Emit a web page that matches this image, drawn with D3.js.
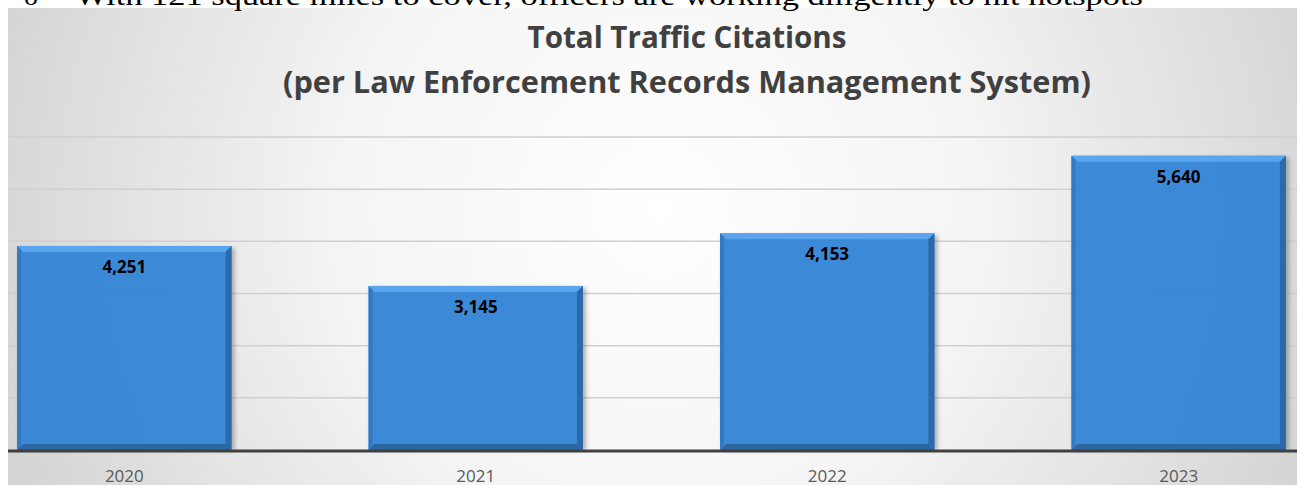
<!DOCTYPE html>
<html>
<head>
<meta charset="utf-8">
<script src="https://cdn.jsdelivr.net/npm/d3@7"></script>
<style>
  html, body { margin: 0; padding: 0; background: #ffffff; }
  svg { display: block; }
</style>
</head>
<body>
<div id="chart"></div>
<script>
// ---- data ----
const years = ["2020", "2021", "2022", "2023"];
const citationLabels = [4251, 3145, 4153, 5640];      // printed data labels
const barHeightsRead = [3910, 3145, 4153, 5640];      // bar heights as drawn in the picture
const yTicks = [0, 1000, 2000, 3000, 4000, 5000, 6000];
const titleLines = ["Total Traffic Citations", "(per Law Enforcement Records Management System)"];
const docLine = "With 121 square miles to cover, officers are working diligently to hit hotspots";

const W = 1297, H = 485;
const svg = d3.select("#chart").append("svg").attr("width", W).attr("height", H);
const defs = svg.append("defs");

const bg = defs.append("radialGradient").attr("id", "bgGrad")
  .attr("gradientUnits", "userSpaceOnUse")
  .attr("cx", 660).attr("cy", 210).attr("r", 720);
bg.append("stop").attr("offset", 0).attr("stop-color", "#ffffff");
bg.append("stop").attr("offset", 0.45).attr("stop-color", "#f4f4f4");
bg.append("stop").attr("offset", 1).attr("stop-color", "#d2d2d2");

const sh = defs.append("filter").attr("id", "shadow").attr("x", "-10%").attr("y", "-10%").attr("width", "130%").attr("height", "130%");
sh.append("feGaussianBlur").attr("stdDeviation", 2);

// chart background
const chartTop = 8;
svg.append("rect").attr("x", 8).attr("y", chartTop).attr("width", W - 8).attr("height", H - chartTop)
  .attr("fill", "url(#bgGrad)");

// scales
const x = d3.scaleBand().domain(years).range([8, 1295]).paddingInner(0.39).paddingOuter(0.026);
const y = d3.scaleLinear().domain([0, 6000]).range([450, 137]);

// gridlines
svg.append("g").selectAll("line").data(yTicks.filter(d => d > 0)).join("line")
  .attr("x1", 8).attr("x2", W)
  .attr("y1", d => y(d)).attr("y2", d => y(d))
  .attr("stroke", "#cfcfcf").attr("stroke-width", 1.5);

// bars
const b = 6;
const bars = svg.append("g").selectAll("g").data(years.map((yr, i) => ({yr, v: barHeightsRead[i], lab: citationLabels[i]})))
  .join("g");

bars.append("rect")
  .attr("x", d => x(d.yr) + 2).attr("y", d => y(d.v) + 2)
  .attr("width", x.bandwidth() + 1).attr("height", d => y(0) - y(d.v) - 2)
  .attr("fill", "#5a5a5a").attr("opacity", 0.45).attr("filter", "url(#shadow)");

bars.append("rect")
  .attr("x", d => x(d.yr)).attr("y", d => y(d.v))
  .attr("width", x.bandwidth()).attr("height", d => y(0) - y(d.v))
  .attr("fill", "#3788d8").attr("fill-opacity", 0.96);

function poly(pts) { return pts.map(p => p.join(",")).join(" "); }
// top bevel
bars.append("polygon").attr("points", d => {
  const x0 = x(d.yr), x1 = x0 + x.bandwidth(), t = y(d.v);
  return poly([[x0, t], [x1, t], [x1 - b, t + b], [x0 + b, t + b]]);
}).attr("fill", "#5aa6ee");
// right bevel
bars.append("polygon").attr("points", d => {
  const x0 = x(d.yr), x1 = x0 + x.bandwidth(), t = y(d.v), bt = y(0);
  return poly([[x1, t], [x1, bt], [x1 - b, bt - b], [x1 - b, t + b]]);
}).attr("fill", "#2c69a8");
// bottom bevel
bars.append("polygon").attr("points", d => {
  const x0 = x(d.yr), x1 = x0 + x.bandwidth(), bt = y(0);
  return poly([[x0, bt], [x1, bt], [x1 - b, bt - b], [x0 + b, bt - b]]);
}).attr("fill", "#2d67a3");
// left bevel
bars.append("polygon").attr("points", d => {
  const x0 = x(d.yr), t = y(d.v), bt = y(0);
  return poly([[x0, t], [x0 + 4, t + 4], [x0 + 4, bt - 4], [x0, bt]]);
}).attr("fill", "#3278c2");

// data labels
bars.append("text")
  .attr("x", d => x(d.yr) + x.bandwidth() / 2)
  .attr("y", d => y(d.v) + 27)
  .attr("text-anchor", "middle")
  .attr("font-family", "'Open Sans', Lato, sans-serif")
  .attr("font-weight", "bold").attr("font-size", 17).attr("fill", "#000")
  .text(d => d3.format(",")(d.lab));

// x axis
const xAxis = d3.axisBottom(x).tickSize(0).tickPadding(0);
const gx = svg.append("g").attr("transform", `translate(0,${y(0)})`).call(xAxis);
gx.select(".domain").remove();
gx.selectAll("text")
  .attr("y", 32).attr("dy", 0)
  .attr("font-family", "'Open Sans', Lato, sans-serif")
  .attr("font-size", 17).attr("fill", "#595959");
svg.append("line").attr("x1", 8).attr("x2", W).attr("y1", y(0) + 1).attr("y2", y(0) + 1)
  .attr("stroke", "#404040").attr("stroke-width", 3);

// title
const titleWidths = [319, 808];
svg.append("g").selectAll("text").data(titleLines).join("text")
  .attr("x", 687).attr("y", (d, i) => 48 + i * 45)
  .attr("text-anchor", "middle")
  .attr("font-family", "'Open Sans', Lato, sans-serif")
  .attr("font-weight", "bold").attr("font-size", 29.5).attr("fill", "#404040")
  .attr("textLength", (d, i) => titleWidths[i]).attr("lengthAdjust", "spacingAndGlyphs")
  .text(d => d);

// document line cut off at the top
svg.append("text").attr("x", 24).attr("y", 5)
  .attr("font-family", "'Liberation Serif', 'Times New Roman', serif")
  .attr("font-size", 28).attr("fill", "#000").text("o");
svg.append("text").attr("x", 75).attr("y", 5)
  .attr("font-family", "'Liberation Serif', 'Times New Roman', serif")
  .attr("font-size", 28).attr("fill", "#000")
  .attr("textLength", 1068).attr("lengthAdjust", "spacingAndGlyphs")
  .text(docLine);
</script>
</body>
</html>
